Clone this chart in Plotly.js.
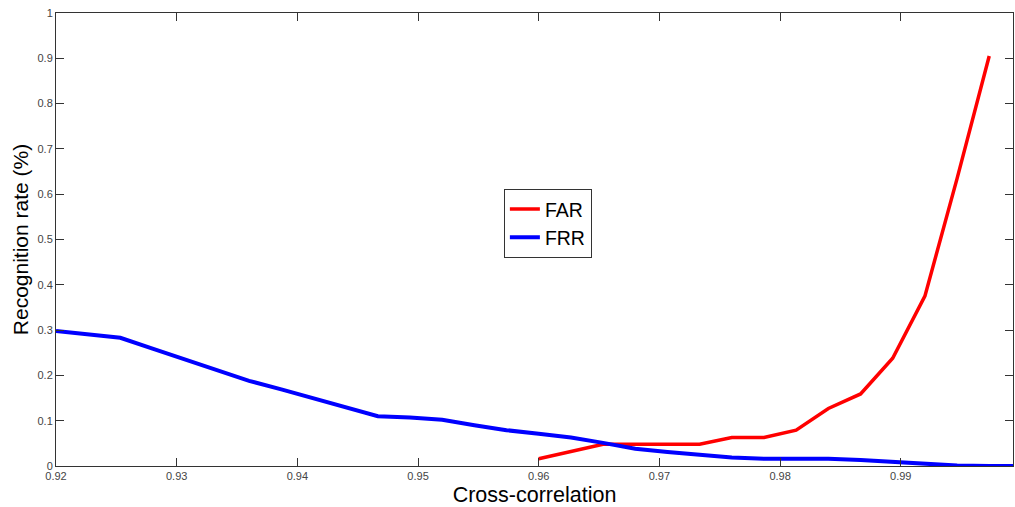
<!DOCTYPE html>
<html>
<head>
<meta charset="utf-8">
<script src="https://cdn.plot.ly/plotly-3.0.1.min.js"></script>
<style>html,body{margin:0;padding:0;background:#fff;}#chart{width:1015px;height:507px;}</style>
</head>
<body>
<div id="chart"></div>
<script>
// x grid: 0.92 .. 1.0 in 30 steps
const xValues = [0.92, 0.92267, 0.92533, 0.928, 0.93067, 0.93333, 0.936, 0.93867, 0.94133, 0.944,
  0.94667, 0.94933, 0.952, 0.95467, 0.95733, 0.96, 0.96267, 0.96533, 0.968, 0.97067,
  0.97333, 0.976, 0.97867, 0.98133, 0.984, 0.98667, 0.98933, 0.992, 0.99467, 0.99733, 1.0];
const frrValues = [0.298, 0.290, 0.283, 0.259, 0.236, 0.212, 0.188, 0.169, 0.149, 0.130,
  0.110, 0.107, 0.102, 0.090, 0.079, 0.071, 0.063, 0.051, 0.038, 0.031,
  0.024, 0.019, 0.016, 0.016, 0.016, 0.013, 0.009, 0.005, 0.001, 0.0, 0.0];
const farX = xValues.slice(15, 30);
const farValues = [0.016, 0.032, 0.048, 0.048, 0.048, 0.048, 0.063, 0.063, 0.079, 0.127,
  0.159, 0.238, 0.375, 0.635, 0.905];
const xTicks = [0.92, 0.93, 0.94, 0.95, 0.96, 0.97, 0.98, 0.99];
const yTicks = [0, 0.1, 0.2, 0.3, 0.4, 0.5, 0.6, 0.7, 0.8, 0.9, 1];
const yTickText = ['0', '0.1', '0.2', '0.3', '0.4', '0.5', '0.6', '0.7', '0.8', '0.9', '1'];

const traces = [
  {x: farX, y: farValues, name: 'FAR', mode: 'lines', line: {color: '#ff0000', width: 3.5}},
  {x: xValues, y: frrValues, name: 'FRR', mode: 'lines', line: {color: '#0000ff', width: 4}}
];
const axisCommon = {
  showgrid: false, zeroline: false, showline: true, linecolor: '#333', linewidth: 1,
  mirror: 'allticks', ticks: 'inside', ticklen: 8, tickcolor: '#333',
  tickfont: {family: 'Liberation Sans, Arial, sans-serif', size: 11, color: '#444'}
};
const layout = {
  width: 1015, height: 507,
  margin: {l: 56, r: 2, t: 13, b: 41},
  paper_bgcolor: '#fff', plot_bgcolor: '#fff',
  showlegend: true,
  legend: {x: 0.468, y: 0.612, xanchor: 'left', yanchor: 'top', bgcolor: '#fff',
    bordercolor: '#333', borderwidth: 1, tracegroupgap: 0,
    font: {family: 'Liberation Sans, Arial, sans-serif', size: 19.5, color: '#000'}},
  xaxis: Object.assign({}, axisCommon, {
    range: [0.92, 0.9993], tickvals: xTicks, ticktext: xTicks.map(v => v.toFixed(2)),
    title: {text: 'Cross-correlation', standoff: 6,
      font: {family: 'Liberation Sans, Arial, sans-serif', size: 21.5, color: '#000'}}
  }),
  yaxis: Object.assign({}, axisCommon, {
    range: [0, 1], tickvals: yTicks, ticktext: yTickText,
    title: {text: 'Recognition rate (%)', standoff: 3,
      font: {family: 'Liberation Sans, Arial, sans-serif', size: 21, color: '#000'}}
  })
};
Plotly.newPlot('chart', traces, layout, {displayModeBar: false, staticPlot: true});
</script>
</body>
</html>
